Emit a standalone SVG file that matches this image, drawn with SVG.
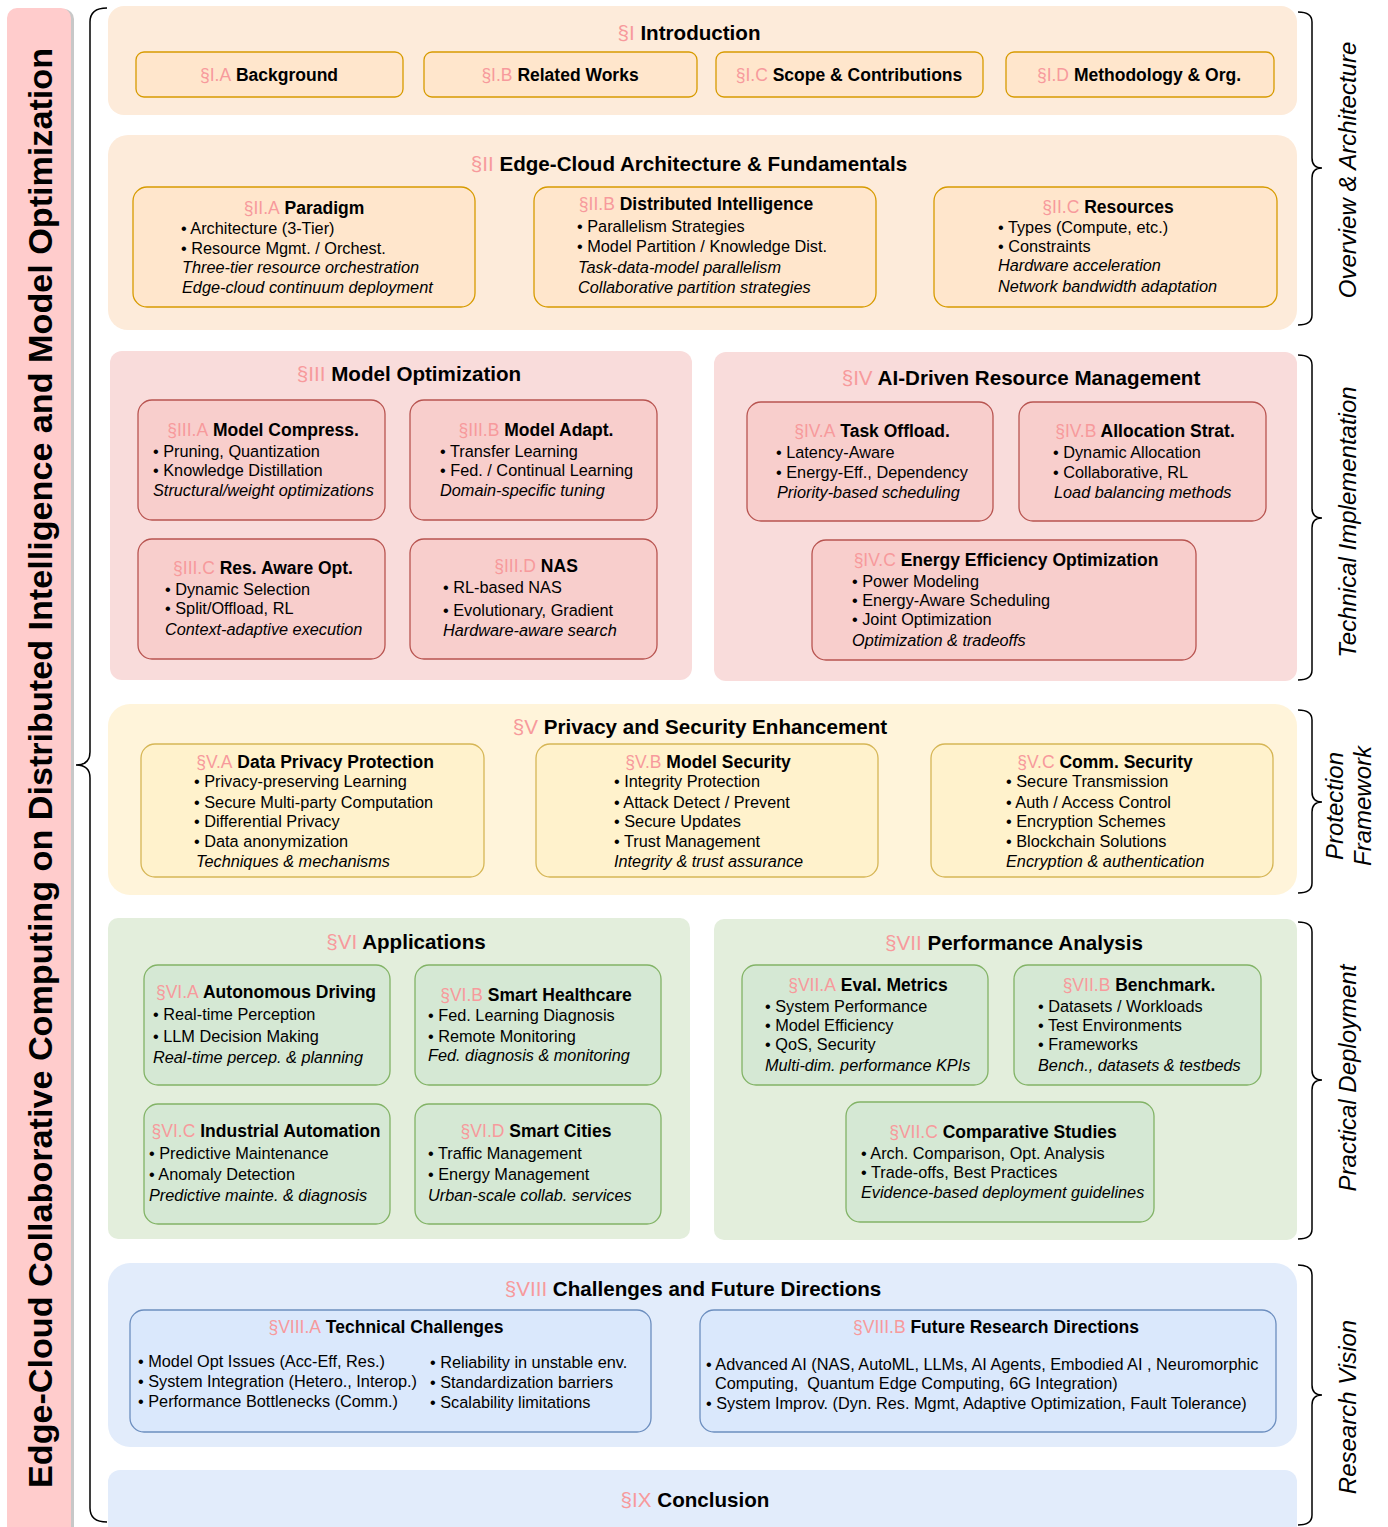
<svg xmlns="http://www.w3.org/2000/svg" width="1388" height="1527" viewBox="0 0 1388 1527">
<style>
text{font-family:"Liberation Sans",Arial,Helvetica,sans-serif;fill:#000}
.st{font-size:20.6px;font-weight:bold;text-anchor:middle}
.ss{font-size:17.5px;font-weight:bold;text-anchor:middle}
.bd{font-size:16.3px}
.it{font-size:16.3px;font-style:italic}
.p{fill:#f79a9c;font-weight:normal}
.lab{font-size:24px;font-style:italic;text-anchor:middle}
.bgO{fill:#fdebda}.bxO{fill:#ffe6cc;stroke:#d79b00;stroke-width:1.3}
.bgR{fill:#f9dcdb}.bxR{fill:#f8cecc;stroke:#b85450;stroke-width:1.3}
.bgY{fill:#fff4da}.bxY{fill:#fff2cc;stroke:#d6b656;stroke-width:1.3}
.bgG{fill:#e3eedc}.bxG{fill:#d5e8d4;stroke:#82b366;stroke-width:1.3}
.bgB{fill:#e2ecfb}.bxB{fill:#dae8fc;stroke:#6c8ebf;stroke-width:1.3}
.br{fill:none;stroke:#000;stroke-width:1.5}
</style>

<g id="title">
<rect x="10" y="9" width="64" height="1530" rx="10" fill="#c8c8c8"/>
<rect x="7" y="8" width="64" height="1530" rx="10" fill="#ffcccc"/>
<text transform="translate(52,768) rotate(-90)" font-size="34" font-weight="bold" text-anchor="middle" textLength="1440" lengthAdjust="spacingAndGlyphs">Edge-Cloud Collaborative Computing on Distributed Intelligence and Model Optimization</text>
</g>

<g id="connectors">
<path class="br" stroke-width="2.5" d="M107 8 Q90 8 90 22 L90 752 Q90 765 76 765 Q90 765 90 778 L90 1508 Q90 1522 107 1522"/>
<path class="br" d="M1298 12 Q1312 12 1312 22 L1312 158 Q1312 168 1322 168 Q1312 168 1312 178 L1312 315 Q1312 325 1298 325"/>
<path class="br" d="M1298 355 Q1312 355 1312 365 L1312 508 Q1312 518 1322 518 Q1312 518 1312 528 L1312 670 Q1312 680 1298 680"/>
<path class="br" d="M1298 710 Q1312 710 1312 720 L1312 792 Q1312 802 1322 802 Q1312 802 1312 812 L1312 883 Q1312 893 1298 893"/>
<path class="br" d="M1298 922 Q1312 922 1312 932 L1312 1070 Q1312 1080 1322 1080 Q1312 1080 1312 1090 L1312 1229 Q1312 1239 1298 1239"/>
<path class="br" d="M1298 1265 Q1312 1265 1312 1275 L1312 1385 Q1312 1395 1322 1395 Q1312 1395 1312 1405 L1312 1515 Q1312 1525 1298 1525"/>
</g>

<g id="labels">
<text class="lab" transform="translate(1356,170) rotate(-90)">Overview &amp; Architecture</text>
<text class="lab" transform="translate(1356,522) rotate(-90)">Technical Implementation</text>
<text class="lab" transform="translate(1343,806) rotate(-90)">Protection</text>
<text class="lab" transform="translate(1371,806) rotate(-90)">Framework</text>
<text class="lab" transform="translate(1356,1078) rotate(-90)">Practical Deployment</text>
<text class="lab" transform="translate(1356,1407) rotate(-90)">Research Vision</text>
</g>

<g id="sec1">
<rect class="bgO" x="108" y="6" width="1189" height="109" rx="16"/>
<text class="st" x="689" y="40"><tspan class="p">§I</tspan> Introduction</text>
</g>
<g id="sec1a"><rect class="bxO" x="136" y="52" width="267" height="45" rx="8"/><text class="ss" x="269" y="81"><tspan class="p">§I.A</tspan> Background</text></g>
<g id="sec1b"><rect class="bxO" x="424" y="52" width="273" height="45" rx="8"/><text class="ss" x="560" y="81"><tspan class="p">§I.B</tspan> Related Works</text></g>
<g id="sec1c"><rect class="bxO" x="716" y="52" width="267" height="45" rx="8"/><text class="ss" x="849" y="81"><tspan class="p">§I.C</tspan> Scope &amp; Contributions</text></g>
<g id="sec1d"><rect class="bxO" x="1006" y="52" width="268" height="45" rx="8"/><text class="ss" x="1139" y="81"><tspan class="p">§I.D</tspan> Methodology &amp; Org.</text></g>

<g id="sec2">
<rect class="bgO" x="108" y="135" width="1189" height="195" rx="20"/>
<text class="st" x="689" y="171"><tspan class="p">§II</tspan> Edge-Cloud Architecture &amp; Fundamentals</text>
</g>
<g id="sec2a"><rect class="bxO" x="133" y="187" width="342" height="120" rx="14"/>
<text class="ss" x="304" y="214"><tspan class="p">§II.A</tspan> Paradigm</text>
<text class="bd" x="181" y="234">• Architecture (3-Tier)</text>
<text class="bd" x="181" y="254">• Resource Mgmt. / Orchest.</text>
<text class="it" x="182" y="273">Three-tier resource orchestration</text>
<text class="it" x="182" y="293">Edge-cloud continuum deployment</text></g>
<g id="sec2b"><rect class="bxO" x="534" y="187" width="342" height="120" rx="14"/>
<text class="ss" x="696" y="210"><tspan class="p">§II.B</tspan> Distributed Intelligence</text>
<text class="bd" x="577" y="232">• Parallelism Strategies</text>
<text class="bd" x="577" y="252">• Model Partition / Knowledge Dist.</text>
<text class="it" x="578" y="273">Task-data-model parallelism</text>
<text class="it" x="578" y="293">Collaborative partition strategies</text></g>
<g id="sec2c"><rect class="bxO" x="934" y="187" width="343" height="120" rx="14"/>
<text class="ss" x="1108" y="213"><tspan class="p">§II.C</tspan> Resources</text>
<text class="bd" x="998" y="233">• Types (Compute, etc.)</text>
<text class="bd" x="998" y="252">• Constraints</text>
<text class="it" x="998" y="271">Hardware acceleration</text>
<text class="it" x="998" y="292">Network bandwidth adaptation</text></g>

<g id="sec3">
<rect class="bgR" x="110" y="351" width="582" height="329" rx="12"/>
<text class="st" x="409" y="381"><tspan class="p">§III</tspan> Model Optimization</text>
</g>
<g id="sec3a"><rect class="bxR" x="138" y="400" width="247" height="120" rx="14"/>
<text class="ss" x="263" y="436"><tspan class="p">§III.A</tspan> Model Compress.</text>
<text class="bd" x="153" y="457">• Pruning, Quantization</text>
<text class="bd" x="153" y="476">• Knowledge Distillation</text>
<text class="it" x="153" y="496">Structural/weight optimizations</text></g>
<g id="sec3b"><rect class="bxR" x="410" y="400" width="247" height="120" rx="14"/>
<text class="ss" x="536" y="436"><tspan class="p">§III.B</tspan> Model Adapt.</text>
<text class="bd" x="440" y="457">• Transfer Learning</text>
<text class="bd" x="440" y="476">• Fed. / Continual Learning</text>
<text class="it" x="440" y="496">Domain-specific tuning</text></g>
<g id="sec3c"><rect class="bxR" x="138" y="539" width="247" height="120" rx="14"/>
<text class="ss" x="263" y="574"><tspan class="p">§III.C</tspan> Res. Aware Opt.</text>
<text class="bd" x="165" y="595">• Dynamic Selection</text>
<text class="bd" x="165" y="614">• Split/Offload, RL</text>
<text class="it" x="165" y="635">Context-adaptive execution</text></g>
<g id="sec3d"><rect class="bxR" x="410" y="539" width="247" height="120" rx="14"/>
<text class="ss" x="536" y="572"><tspan class="p">§III.D</tspan> NAS</text>
<text class="bd" x="443" y="593" font-size="17.8">• RL-based NAS</text>
<text class="bd" x="443" y="616" font-size="17.8">• Evolutionary, Gradient</text>
<text class="it" x="443" y="636" font-size="17.8">Hardware-aware search</text></g>

<g id="sec4">
<rect class="bgR" x="714" y="352" width="583" height="329" rx="12"/>
<text class="st" x="1021" y="385"><tspan class="p">§IV</tspan> AI-Driven Resource Management</text>
</g>
<g id="sec4a"><rect class="bxR" x="747" y="402" width="246" height="119" rx="14"/>
<text class="ss" x="872" y="437"><tspan class="p">§IV.A</tspan> Task Offload.</text>
<text class="bd" x="776" y="458">• Latency-Aware</text>
<text class="bd" x="776" y="478">• Energy-Eff., Dependency</text>
<text class="it" x="777" y="498">Priority-based scheduling</text></g>
<g id="sec4b"><rect class="bxR" x="1019" y="402" width="247" height="119" rx="14"/>
<text class="ss" x="1145" y="437"><tspan class="p">§IV.B</tspan> Allocation Strat.</text>
<text class="bd" x="1053" y="458">• Dynamic Allocation</text>
<text class="bd" x="1053" y="478">• Collaborative, RL</text>
<text class="it" x="1054" y="498">Load balancing methods</text></g>
<g id="sec4c"><rect class="bxR" x="812" y="540" width="384" height="120" rx="14"/>
<text class="ss" x="1006" y="566"><tspan class="p">§IV.C</tspan> Energy Efficiency Optimization</text>
<text class="bd" x="852" y="587">• Power Modeling</text>
<text class="bd" x="852" y="606">• Energy-Aware Scheduling</text>
<text class="bd" x="852" y="625">• Joint Optimization</text>
<text class="it" x="852" y="646">Optimization &amp; tradeoffs</text></g>

<g id="sec5">
<rect class="bgY" x="108" y="704" width="1189" height="191" rx="22"/>
<text class="st" x="700" y="734"><tspan class="p">§V</tspan> Privacy and Security Enhancement</text>
</g>
<g id="sec5a"><rect class="bxY" x="141" y="744" width="343" height="133" rx="14"/>
<text class="ss" x="315" y="768"><tspan class="p">§V.A</tspan> Data Privacy Protection</text>
<text class="bd" x="194" y="787">• Privacy-preserving Learning</text>
<text class="bd" x="194" y="808">• Secure Multi-party Computation</text>
<text class="bd" x="194" y="827">• Differential Privacy</text>
<text class="bd" x="194" y="847">• Data anonymization</text>
<text class="it" x="196" y="867">Techniques &amp; mechanisms</text></g>
<g id="sec5b"><rect class="bxY" x="536" y="744" width="342" height="133" rx="14"/>
<text class="ss" x="708" y="768"><tspan class="p">§V.B</tspan> Model Security</text>
<text class="bd" x="614" y="787">• Integrity Protection</text>
<text class="bd" x="614" y="808">• Attack Detect / Prevent</text>
<text class="bd" x="614" y="827">• Secure Updates</text>
<text class="bd" x="614" y="847">• Trust Management</text>
<text class="it" x="614" y="867">Integrity &amp; trust assurance</text></g>
<g id="sec5c"><rect class="bxY" x="931" y="744" width="342" height="133" rx="14"/>
<text class="ss" x="1105" y="768"><tspan class="p">§V.C</tspan> Comm. Security</text>
<text class="bd" x="1006" y="787">• Secure Transmission</text>
<text class="bd" x="1006" y="808">• Auth / Access Control</text>
<text class="bd" x="1006" y="827">• Encryption Schemes</text>
<text class="bd" x="1006" y="847">• Blockchain Solutions</text>
<text class="it" x="1006" y="867">Encryption &amp; authentication</text></g>

<g id="sec6">
<rect class="bgG" x="108" y="918" width="582" height="321" rx="10"/>
<text class="st" x="406" y="949"><tspan class="p">§VI</tspan> Applications</text>
</g>
<g id="sec6a"><rect class="bxG" x="144" y="965" width="246" height="120" rx="14"/>
<text class="ss" x="266" y="998"><tspan class="p">§VI.A</tspan> Autonomous Driving</text>
<text class="bd" x="153" y="1020" font-size="17.8">• Real-time Perception</text>
<text class="bd" x="153" y="1042" font-size="17.8">• LLM Decision Making</text>
<text class="it" x="153" y="1063" font-size="17.8">Real-time percep. &amp; planning</text></g>
<g id="sec6b"><rect class="bxG" x="415" y="965" width="246" height="120" rx="14"/>
<text class="ss" x="536" y="1001"><tspan class="p">§VI.B</tspan> Smart Healthcare</text>
<text class="bd" x="428" y="1021">• Fed. Learning Diagnosis</text>
<text class="bd" x="428" y="1042">• Remote Monitoring</text>
<text class="it" x="428" y="1061" font-size="17.4">Fed. diagnosis &amp; monitoring</text></g>
<g id="sec6c"><rect class="bxG" x="144" y="1104" width="246" height="120" rx="14"/>
<text class="ss" x="266" y="1137"><tspan class="p">§VI.C</tspan> Industrial Automation</text>
<text class="bd" x="149" y="1159" font-size="17.8">• Predictive Maintenance</text>
<text class="bd" x="149" y="1180" font-size="17.8">• Anomaly Detection</text>
<text class="it" x="149" y="1201" font-size="17.8">Predictive mainte. &amp; diagnosis</text></g>
<g id="sec6d"><rect class="bxG" x="415" y="1104" width="246" height="120" rx="14"/>
<text class="ss" x="536" y="1137"><tspan class="p">§VI.D</tspan> Smart Cities</text>
<text class="bd" x="428" y="1159" font-size="17.8">• Traffic Management</text>
<text class="bd" x="428" y="1180" font-size="17.8">• Energy Management</text>
<text class="it" x="428" y="1201" font-size="17.8">Urban-scale collab. services</text></g>

<g id="sec7">
<rect class="bgG" x="714" y="919" width="583" height="321" rx="10"/>
<text class="st" x="1014" y="950"><tspan class="p">§VII</tspan> Performance Analysis</text>
</g>
<g id="sec7a"><rect class="bxG" x="742" y="965" width="246" height="120" rx="14"/>
<text class="ss" x="868" y="991"><tspan class="p">§VII.A</tspan> Eval. Metrics</text>
<text class="bd" x="765" y="1012">• System Performance</text>
<text class="bd" x="765" y="1031">• Model Efficiency</text>
<text class="bd" x="765" y="1050">• QoS, Security</text>
<text class="it" x="765" y="1071">Multi-dim. performance KPIs</text></g>
<g id="sec7b"><rect class="bxG" x="1014" y="965" width="247" height="120" rx="14"/>
<text class="ss" x="1139" y="991"><tspan class="p">§VII.B</tspan> Benchmark.</text>
<text class="bd" x="1038" y="1012">• Datasets / Workloads</text>
<text class="bd" x="1038" y="1031">• Test Environments</text>
<text class="bd" x="1038" y="1050">• Frameworks</text>
<text class="it" x="1038" y="1071">Bench., datasets &amp; testbeds</text></g>
<g id="sec7c"><rect class="bxG" x="846" y="1102" width="308" height="120" rx="14"/>
<text class="ss" x="1003" y="1138"><tspan class="p">§VII.C</tspan> Comparative Studies</text>
<text class="bd" x="861" y="1159">• Arch. Comparison, Opt. Analysis</text>
<text class="bd" x="861" y="1178">• Trade-offs, Best Practices</text>
<text class="it" x="861" y="1198">Evidence-based deployment guidelines</text></g>

<g id="sec8">
<rect class="bgB" x="108" y="1263" width="1189" height="184" rx="22"/>
<text class="st" x="693" y="1296"><tspan class="p">§VIII</tspan> Challenges and Future Directions</text>
</g>
<g id="sec8a"><rect class="bxB" x="130" y="1310" width="521" height="122" rx="14"/>
<text class="ss" x="386" y="1333"><tspan class="p">§VIII.A</tspan> Technical Challenges</text>
<text class="bd" x="138" y="1367" font-size="15.8">• Model Opt Issues (Acc-Eff, Res.)</text>
<text class="bd" x="138" y="1387" font-size="15.8">• System Integration (Hetero., Interop.)</text>
<text class="bd" x="138" y="1407" font-size="15.8">• Performance Bottlenecks (Comm.)</text>
<text class="bd" x="430" y="1368" font-size="15.8">• Reliability in unstable env.</text>
<text class="bd" x="430" y="1388" font-size="15.8">• Standardization barriers</text>
<text class="bd" x="430" y="1408" font-size="15.8">• Scalability limitations</text></g>
<g id="sec8b"><rect class="bxB" x="700" y="1310" width="576" height="122" rx="14"/>
<text class="ss" x="996" y="1333"><tspan class="p">§VIII.B</tspan> Future Research Directions</text>
<text class="bd" x="706" y="1370" font-size="15.8">• Advanced AI (NAS, AutoML, LLMs, AI Agents, Embodied AI , Neuromorphic</text>
<text class="bd" x="715" y="1389" font-size="15.8" xml:space="preserve">Computing,  Quantum Edge Computing, 6G Integration)</text>
<text class="bd" x="706" y="1409" font-size="15.8">• System Improv. (Dyn. Res. Mgmt, Adaptive Optimization, Fault Tolerance)</text></g>

<g id="sec9">
<rect class="bgB" x="108" y="1470" width="1189" height="80" rx="12"/>
<text class="st" x="695" y="1507"><tspan class="p">§IX</tspan> Conclusion</text>
</g>
</svg>
